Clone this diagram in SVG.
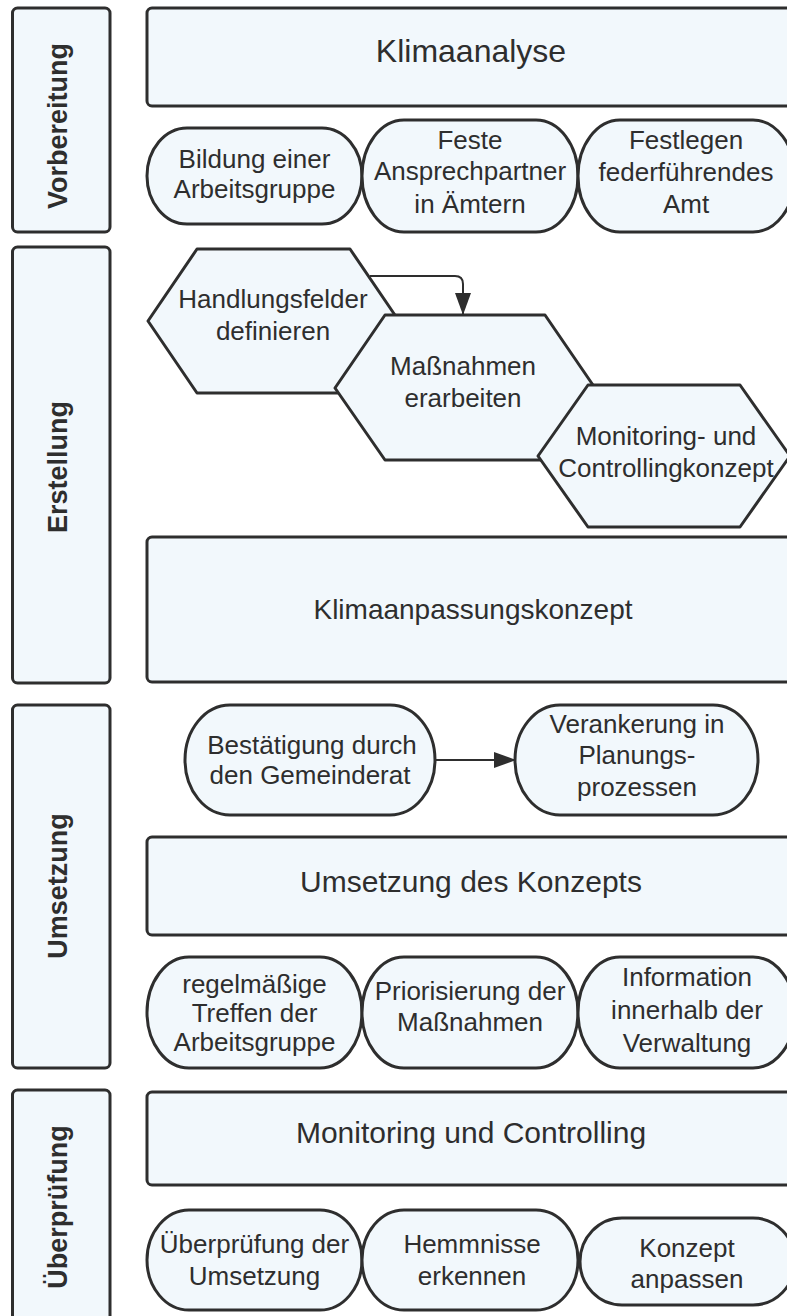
<svg xmlns="http://www.w3.org/2000/svg" width="787" height="1316" viewBox="0 0 787 1316">
<style>
.s{fill:#F2F8FC;stroke:#2e2e2e;stroke-width:3;stroke-linejoin:round}
.t{font-family:"Liberation Sans",Arial,sans-serif;font-size:26px;fill:#2e2e2e;text-anchor:middle}
.b{font-size:30px}
.l{font-family:"Liberation Sans",Arial,sans-serif;font-size:27px;font-weight:bold;fill:#2e2e2e;text-anchor:middle}
.c{fill:none;stroke:#2e2e2e;stroke-width:2}
</style>
<defs>
<marker id="ah" markerUnits="userSpaceOnUse" markerWidth="22" markerHeight="16" refX="21" refY="8" orient="auto">
<path d="M0,0 L22,8 L0,16 z" fill="#2e2e2e"/>
</marker>
</defs>
<rect width="787" height="1316" fill="#ffffff"/>

<g id="lane-vorbereitung">
<rect class="s" x="12.5" y="8" width="97.5" height="224" rx="5"/>
<text class="l" transform="translate(67,126) rotate(-90)">Vorbereitung</text>
</g>
<g id="lane-erstellung">
<rect class="s" x="12.5" y="247" width="97.5" height="436" rx="5"/>
<text class="l" transform="translate(67,467) rotate(-90)">Erstellung</text>
</g>
<g id="lane-umsetzung">
<rect class="s" x="12.5" y="705" width="97.5" height="363" rx="5"/>
<text class="l" transform="translate(67,886) rotate(-90)">Umsetzung</text>
</g>
<g id="lane-ueberpruefung">
<rect class="s" x="12.5" y="1090" width="97.5" height="240" rx="5"/>
<text class="l" transform="translate(67,1207) rotate(-90)">Überprüfung</text>
</g>

<g id="klimaanalyse">
<rect class="s" x="147" y="8" width="650" height="98" rx="5"/>
<text class="t" x="471" y="62" style="font-size:32px">Klimaanalyse</text>
</g>
<g id="arbeitsgruppe">
<rect class="s" x="147" y="128" width="215" height="96" rx="40" ry="48"/>
<text class="t"><tspan x="254.5" y="168">Bildung einer</tspan><tspan x="254.5" y="198">Arbeitsgruppe</tspan></text>
</g>
<g id="ansprechpartner">
<rect class="s" x="362" y="120" width="216" height="112" rx="42" ry="56"/>
<text class="t"><tspan x="470" y="149">Feste</tspan><tspan x="470" y="180">Ansprechpartner</tspan><tspan x="470" y="213">in Ämtern</tspan></text>
</g>
<g id="federfuehrend">
<rect class="s" x="578" y="120" width="217" height="112" rx="42" ry="56"/>
<text class="t"><tspan x="686" y="149">Festlegen</tspan><tspan x="686" y="181">federführendes</tspan><tspan x="686" y="213">Amt</tspan></text>
</g>

<g id="handlungsfelder">
<polygon class="s" points="148,321 197,249 350,249 399,321 350,393 197,393"/>
<text class="t"><tspan x="273" y="308">Handlungsfelder</tspan><tspan x="273" y="340">definieren</tspan></text>
</g>
<g id="massnahmen">
<polygon class="s" points="335,388 385,315 545,315 595,388 545,460 385,460"/>
<text class="t"><tspan x="463" y="375">Maßnahmen</tspan><tspan x="463" y="407">erarbeiten</tspan></text>
</g>
<g id="monitoringkonzept">
<polygon class="s" points="538,456 588,385 740,385 790,456 740,527 588,527"/>
<text class="t"><tspan x="666" y="445">Monitoring- und</tspan><tspan x="666" y="477">Controllingkonzept</tspan></text>
</g>
<g id="klimaanpassungskonzept">
<rect class="s" x="147" y="537" width="650" height="145" rx="5"/>
<text class="t" x="473" y="619" style="font-size:28px">Klimaanpassungskonzept</text>
</g>

<g id="gemeinderat">
<rect class="s" x="185" y="705" width="250" height="110" rx="45" ry="55"/>
<text class="t"><tspan x="312" y="754">Bestätigung durch</tspan><tspan x="310" y="784">den Gemeinderat</tspan></text>
</g>
<g id="verankerung">
<rect class="s" x="515" y="705" width="243" height="110" rx="45" ry="55"/>
<text class="t"><tspan x="637" y="733">Verankerung in</tspan><tspan x="637" y="764">Planungs-</tspan><tspan x="637" y="796">prozessen</tspan></text>
</g>
<g id="umsetzung-konzept">
<rect class="s" x="147" y="837" width="650" height="98" rx="5"/>
<text class="t b" x="471" y="892">Umsetzung des Konzepts</text>
</g>
<g id="treffen">
<rect class="s" x="147" y="957" width="215" height="111" rx="42" ry="55.5"/>
<text class="t"><tspan x="254.5" y="993">regelmäßige</tspan><tspan x="254.5" y="1022">Treffen der</tspan><tspan x="254.5" y="1051">Arbeitsgruppe</tspan></text>
</g>
<g id="priorisierung">
<rect class="s" x="362" y="957" width="216" height="111" rx="42" ry="55.5"/>
<text class="t"><tspan x="470" y="1000">Priorisierung der</tspan><tspan x="470" y="1031">Maßnahmen</tspan></text>
</g>
<g id="information">
<rect class="s" x="578" y="957" width="217" height="111" rx="42" ry="55.5"/>
<text class="t"><tspan x="687" y="986">Information</tspan><tspan x="687" y="1019">innerhalb der</tspan><tspan x="687" y="1052">Verwaltung</tspan></text>
</g>

<g id="monitoring-controlling">
<rect class="s" x="147" y="1092" width="650" height="93" rx="5"/>
<text class="t b" x="471" y="1143">Monitoring und Controlling</text>
</g>
<g id="ueberpruefung-umsetzung">
<rect class="s" x="147" y="1210" width="215" height="100" rx="42" ry="50"/>
<text class="t"><tspan x="254.5" y="1253">Überprüfung der</tspan><tspan x="254.5" y="1285">Umsetzung</tspan></text>
</g>
<g id="hemmnisse">
<rect class="s" x="362" y="1210" width="216" height="100" rx="42" ry="50"/>
<text class="t"><tspan x="472" y="1253">Hemmnisse</tspan><tspan x="472" y="1285">erkennen</tspan></text>
</g>
<g id="konzept-anpassen">
<rect class="s" x="580" y="1218" width="215" height="87" rx="42" ry="43.5"/>
<text class="t"><tspan x="687" y="1257">Konzept</tspan><tspan x="687" y="1288">anpassen</tspan></text>
</g>

<g id="connectors">
<path class="c" d="M370,276 H455 Q463,276 463,284 V314" marker-end="url(#ah)"/>
<path class="c" d="M435,760 H515" marker-end="url(#ah)"/>
</g>
</svg>
